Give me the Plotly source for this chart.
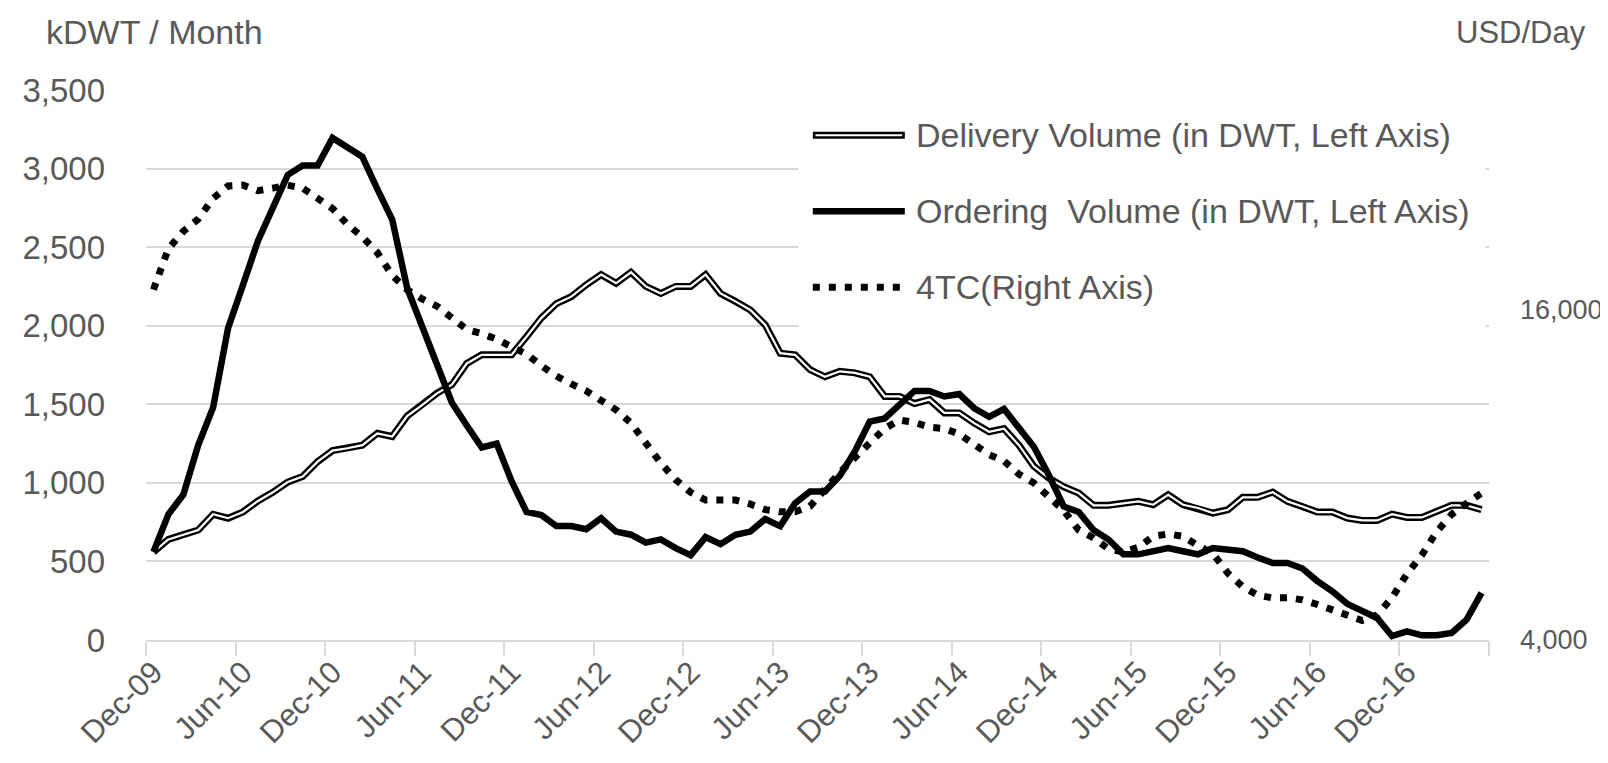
import plotly.graph_objects as go

# ---- data ----
years = ["09", "10", "11", "12", "13", "14", "15", "16", "17"]
month_names = ["Jan", "Feb", "Mar", "Apr", "May", "Jun", "Jul", "Aug", "Sep", "Oct", "Nov", "Dec"]
# months Dec-09 .. May-17 (90 months)
months = ["Dec-09"] + [f"{m}-{y}" for y in years[1:] for m in month_names][:89]

delivery = [560, 640, 670, 700, 800, 775, 815, 885, 940, 1005,
            1040, 1135, 1205, 1220, 1240, 1315, 1295, 1425, 1495, 1570,
            1625, 1760, 1815, 1815, 1815, 1930, 2050, 2140, 2185, 2260,
            2325, 2270, 2340, 2250, 2205, 2250, 2250, 2325, 2205, 2155,
            2100, 2005, 1825, 1815, 1720, 1675, 1710, 1700, 1675, 1550,
            1550, 1505, 1530, 1445, 1445, 1380, 1325, 1345, 1240, 1105,
            1030, 975, 935, 857, 857, 870, 882, 861, 924, 861,
            840, 808, 829, 908, 908, 941, 882, 850, 814, 814,
            776, 761, 761, 801, 780, 780, 818, 857, 857, 829]

ordering = [560, 800, 925, 1240, 1480, 1985, 2260, 2540, 2750, 2960,
            3020, 3020, 3195, 3135, 3075, 2870, 2675, 2240, 2000, 1750,
            1510, 1365, 1225, 1250, 1010, 815, 795, 725, 725, 705,
            775, 690, 670, 620, 640, 585, 540, 655, 610, 670,
            690, 770, 725, 870, 945, 945, 1045, 1200, 1390, 1410,
            1500, 1585, 1585, 1550, 1565, 1475, 1420, 1470, 1350, 1230,
            1050, 850, 815, 700, 640, 545, 545, 565, 585, 565,
            545, 585, 570, 565, 525, 490, 490, 455, 375, 310,
            230, 180, 140, 25, 55, 30, 30, 45, 130, 300]

tc4 = [16740, 18230, 18860, 19310, 20060, 20510, 20540, 20340, 20430, 20540,
       20430, 20060, 19690, 19110, 18660, 18090, 17260, 16740, 16400, 16140,
       15710, 15290, 15140, 14940, 14660, 14400, 13970, 13600, 13310, 13060,
       12710, 12370, 11890, 11110, 10430, 9830, 9370, 9090, 9090, 9090,
       8940, 8740, 8660, 8660, 8860, 9490, 10090, 10630, 11200, 11690,
       12000, 11910, 11740, 11690, 11490, 11090, 10740, 10510, 10030, 9710,
       9230, 8710, 8000, 7710, 7310, 7200, 7370, 7770, 7860, 7770,
       7430, 7140, 6430, 5940, 5630, 5530, 5540, 5460, 5290, 5090,
       4860, 4710, 4910, 5540, 6400, 7090, 7940, 8570, 8970, 9340]

left_ticks = [0, 500, 1000, 1500, 2000, 2500, 3000, 3500]
right_ticks = [4000, 16000]
tick_every = 6

legend_names = ["Delivery Volume (in DWT, Left Axis)",
                "Ordering\u00a0 Volume (in DWT, Left Axis)",
                "4TC(Right Axis)"]

# ---- styling ----
FONT = "Liberation Sans, Arial, sans-serif"
GRAY = "#595959"
GRID = "#d9d9d9"
FS = 34
DOT = "7px,9px"

x = list(range(len(months)))
label_idx = list(range(0, len(months), tick_every))

fig = go.Figure()
fig.add_trace(go.Scatter(x=x, y=delivery, mode="lines", line=dict(color="black", width=7),
                         showlegend=False, hoverinfo="skip"))
fig.add_trace(go.Scatter(x=x, y=delivery, mode="lines", line=dict(color="white", width=2.2),
                         name=legend_names[0], showlegend=False))
fig.add_trace(go.Scatter(x=x, y=ordering, mode="lines", line=dict(color="black", width=6.5),
                         name=legend_names[1], showlegend=False))
fig.add_trace(go.Scatter(x=x, y=tc4, mode="lines", yaxis="y2",
                         line=dict(color="black", width=7, dash=DOT),
                         name=legend_names[2], showlegend=False))

fig.update_layout(
    width=1608, height=763,
    margin=dict(l=138, r=127, t=82, b=131),
    paper_bgcolor="white", plot_bgcolor="white",
    font=dict(family=FONT, size=FS, color=GRAY),
    showlegend=False,
    xaxis=dict(
        range=[-0.5, len(months) - 0.5], automargin=False,
        tickmode="array", tickvals=label_idx, ticktext=[months[i] for i in label_idx],
        tickangle=-45, ticks="", showgrid=False, zeroline=False,
        showline=True, linecolor=GRID, linewidth=1.5,
        tickfont=dict(family=FONT, size=31, color=GRAY),
        minor=dict(tickmode="array",
                   tickvals=[i - 0.5 for i in range(0, len(months) + 1, tick_every)],
                   ticks="outside", ticklen=14, tickwidth=1.5, tickcolor=GRID, showgrid=False),
    ),
    yaxis=dict(
        range=[0, 3500], automargin=False, tickmode="array", tickvals=left_ticks, tickformat=",",
        showgrid=True, gridcolor=GRID, gridwidth=1.5, zeroline=False, showline=False,
        ticks="", ticklabelstandoff=40,
        tickfont=dict(family=FONT, size=33, color=GRAY),
    ),
    yaxis2=dict(
        range=[4000, 24000], automargin=False, overlaying="y", side="right", tickmode="array",
        tickvals=right_ticks, tickformat=",", showgrid=False, zeroline=False,
        showline=False, ticks="", ticklabelstandoff=30,
        tickfont=dict(family=FONT, size=27, color=GRAY),
    ),
)

# axis unit titles
fig.add_annotation(text="kDWT / Month", xref="paper", yref="paper", x=-0.076, y=1.105,
                   xanchor="left", yanchor="middle", showarrow=False,
                   font=dict(family=FONT, size=FS, color=GRAY))
fig.add_annotation(text="USD/Day", xref="paper", yref="paper", x=1.0737, y=1.105,
                   xanchor="right", yanchor="middle", showarrow=False,
                   font=dict(family=FONT, size=31, color=GRAY))

# manual legend (white box, samples, labels)
fig.add_shape(type="rect", xref="paper", yref="paper", x0=0.486, x1=0.9975, y0=0.566, y1=0.975,
              fillcolor="white", line=dict(width=0), layer="above")
ly = [0.9177, 0.7796, 0.6415]
lx0, lx1, ltx = 0.4965, 0.565, 0.5717
fig.add_shape(type="line", xref="paper", yref="paper", x0=lx0, x1=lx1, y0=ly[0], y1=ly[0],
              line=dict(color="black", width=7), layer="above")
fig.add_shape(type="line", xref="paper", yref="paper", x0=lx0 + 0.002, x1=lx1 - 0.002, y0=ly[0], y1=ly[0],
              line=dict(color="white", width=2.2), layer="above")
fig.add_shape(type="line", xref="paper", yref="paper", x0=lx0, x1=lx1, y0=ly[1], y1=ly[1],
              line=dict(color="black", width=6.5), layer="above")
fig.add_shape(type="line", xref="paper", yref="paper", x0=lx0, x1=lx1, y0=ly[2], y1=ly[2],
              line=dict(color="black", width=7, dash=DOT), layer="above")
for name, yy in zip(legend_names, ly):
    fig.add_annotation(text=name, xref="paper", yref="paper", x=ltx, y=yy,
                       xanchor="left", yanchor="middle", showarrow=False,
                       font=dict(family=FONT, size=FS, color=GRAY))

fig.write_html("out.html")
